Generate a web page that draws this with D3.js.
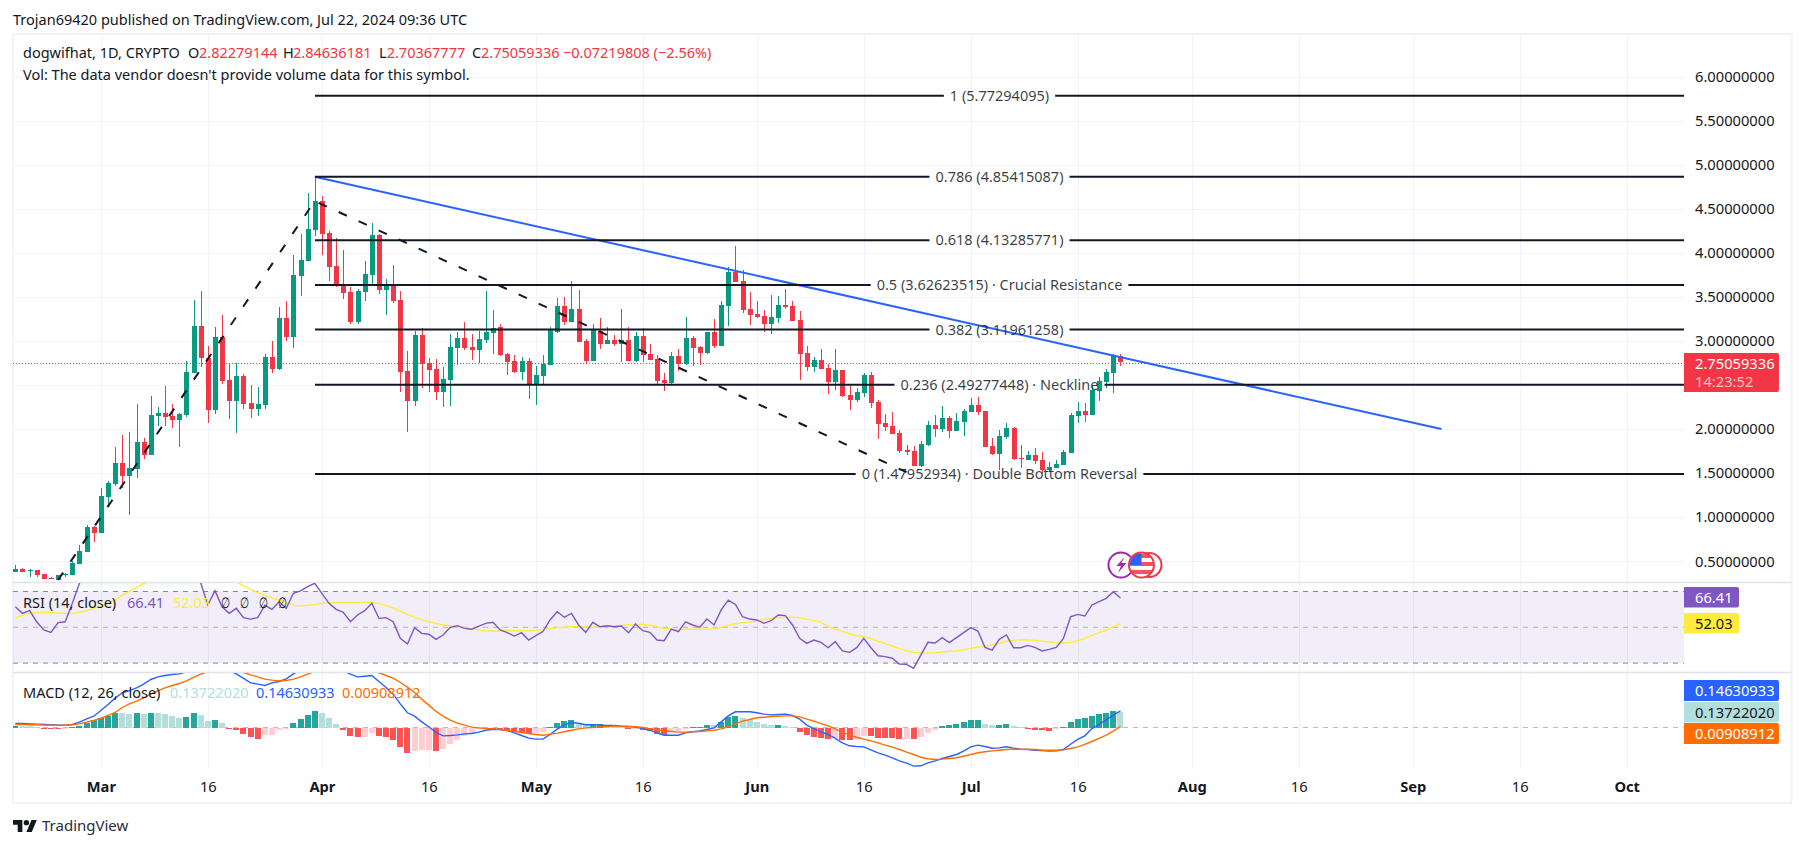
<!DOCTYPE html>
<html>
<head>
<meta charset="utf-8">
<title>dogwifhat 1D</title>
<script src="https://cdn.jsdelivr.net/npm/d3@7"></script>
<style>
  html, body { margin: 0; padding: 0; background: #ffffff; overflow: hidden; }
  svg text { font-family: "Noto Sans", sans-serif; }
</style>
</head>
<body>
<div id="chart"></div>
<script>
// Daily candles, first one is Feb 18 2024
var firstDay = "2024-02-18";
var candleOpen = [
  .367,.401,.374,.385,.340,.298,.276,.329,.332,.457,
  .594,.877,.809,1.218,1.366,1.604,1.456,1.536,1.842,1.695,
  2.137,2.171,2.137,2.092,2.149,2.626,3.159,2.796,2.206,3.034,
  2.546,2.308,2.591,2.285,2.217,2.262,2.807,2.671,3.250,3.034,
  3.727,3.897,4.249,4.578,4.215,3.840,3.625,3.545,3.204,3.545,
  3.738,4.192,3.568,3.625,3.454,2.648,2.308,3.057,2.739,2.671,
  2.410,2.546,2.909,3.023,2.921,2.887,3.000,3.080,3.148,2.841,
  2.762,2.637,2.762,2.489,2.591,2.716,3.091,3.386,3.204,3.352,
  2.989,2.762,3.102,2.955,3.000,2.955,3.000,2.762,3.046,2.841,
  2.784,2.546,2.512,2.818,2.728,3.023,2.921,2.853,3.091,2.932,
  3.386,3.772,3.670,3.352,3.295,3.273,3.182,3.250,3.397,3.386,
  3.227,2.853,2.694,2.773,2.682,2.523,2.660,2.376,2.319,2.399,
  2.603,2.296,2.058,2.024,1.944,1.751,1.740,1.570,1.808,2.035,
  1.990,2.115,1.967,2.069,2.183,2.262,2.194,1.797,1.706,1.899,
  2.001,1.661,1.638,1.695,1.638,1.524,1.547,1.581,1.717,2.137,
  2.194,2.149,2.421,2.523,2.626,2.82279
];
var candleHigh = [
  .442,.412,.401,.393,.340,.314,.336,.355,.495,.669,
  .900,.889,1.320,1.399,1.786,1.922,1.956,2.274,1.888,2.364,
  2.240,2.478,2.274,2.171,2.762,3.454,3.556,2.932,3.148,3.284,
  2.739,2.739,2.614,2.489,2.467,2.841,2.989,3.375,3.443,3.965,
  4.203,4.669,4.854,4.635,4.238,4.158,4.022,3.602,3.579,3.897,
  4.328,4.203,3.693,3.852,3.556,2.875,3.102,3.136,2.796,2.784,
  2.694,3.068,3.091,3.204,3.068,3.102,3.556,3.341,3.182,2.853,
  2.830,2.807,2.796,2.705,2.830,3.148,3.477,3.488,3.670,3.568,
  3.012,3.182,3.250,3.148,3.057,3.352,3.148,3.091,3.136,2.955,
  2.830,2.626,2.864,2.898,3.261,3.046,2.932,3.091,3.239,3.443,
  3.829,4.067,3.795,3.545,3.443,3.341,3.511,3.500,3.579,3.443,
  3.329,2.932,2.807,2.898,2.728,2.898,2.660,2.478,2.455,2.626,
  2.637,2.319,2.160,2.183,1.978,1.808,1.797,1.854,2.081,2.149,
  2.251,2.137,2.171,2.217,2.342,2.353,2.194,1.888,1.978,2.058,
  2.013,1.808,1.740,1.774,1.729,1.615,1.638,1.751,2.171,2.296,
  2.285,2.478,2.580,2.671,2.841,2.84636
];
var candleLow = [
  .367,.370,.314,.314,.291,.283,.276,.314,.332,.457,
  .594,.707,.809,1.108,1.343,1.320,1.014,1.434,1.649,1.695,
  2.024,2.024,2.001,1.786,2.126,2.626,2.694,2.058,2.160,2.501,
  2.103,1.944,2.217,2.115,2.137,2.217,2.626,2.660,2.989,2.909,
  3.500,3.897,4.181,3.965,3.670,3.602,3.466,3.182,3.182,3.443,
  3.625,3.522,3.284,3.420,2.410,1.956,2.251,2.455,2.410,2.319,
  2.240,2.251,2.716,2.887,2.773,2.739,2.966,2.841,2.818,2.603,
  2.626,2.546,2.330,2.262,2.489,2.716,3.080,3.170,3.204,2.977,
  2.728,2.762,2.898,2.955,2.932,2.750,2.762,2.750,2.750,2.773,
  2.501,2.421,2.501,2.648,2.716,2.705,2.716,2.841,2.909,2.932,
  3.159,3.659,3.307,3.170,3.250,3.091,3.068,3.193,3.352,3.216,
  2.546,2.648,2.637,2.671,2.387,2.433,2.353,2.206,2.296,2.353,
  2.228,1.876,1.967,1.933,1.717,1.695,1.570,1.558,1.797,1.899,
  1.956,1.888,1.967,1.910,2.183,2.149,1.786,1.695,1.524,1.876,
  1.638,1.547,1.638,1.592,1.486,1.502,1.547,1.581,1.717,2.058,
  2.069,2.149,2.308,2.455,2.398,2.70368
];
var candleClose = [
  .401,.370,.393,.336,.291,.287,.329,.340,.469,.605,
  .877,.809,1.229,1.377,1.604,1.456,1.547,1.842,1.695,2.149,
  2.171,2.126,2.092,2.160,2.637,3.159,2.796,2.206,3.034,2.535,
  2.308,2.591,2.274,2.217,2.274,2.807,2.671,3.250,3.034,3.738,
  3.908,4.260,4.578,4.203,3.829,3.636,3.534,3.204,3.556,3.749,
  4.192,3.568,3.625,3.443,2.637,2.308,3.057,2.728,2.660,2.410,
  2.557,2.921,3.023,2.909,2.887,3.012,3.091,3.136,2.830,2.750,
  2.637,2.762,2.489,2.603,2.728,3.114,3.386,3.204,3.352,2.977,
  2.762,3.114,2.955,3.000,2.955,3.000,2.762,3.046,2.830,2.773,
  2.535,2.512,2.818,2.728,3.023,2.909,2.853,3.091,2.932,3.397,
  3.772,3.659,3.341,3.284,3.261,3.182,3.261,3.397,3.375,3.216,
  2.841,2.694,2.773,2.671,2.523,2.660,2.364,2.319,2.410,2.603,
  2.285,2.047,2.013,1.933,1.740,1.729,1.570,1.820,2.035,1.990,
  2.115,1.967,2.081,2.194,2.262,2.183,1.786,1.706,1.910,2.001,
  1.649,1.649,1.695,1.627,1.524,1.558,1.592,1.729,2.149,2.194,
  2.149,2.433,2.535,2.637,2.818,2.75059
];

// RSI pane, per candle (the stretch that runs off the top of the pane is a guess)
var rsiValues = [
  61.5,57.8,59.3,53.1,48.5,47.2,52.6,53.1,63.4,74.6,
  85.7,88,89,90,88,86,87,85,86,86,
  88,85,84,83,84,84,74.9,62.4,70.5,61.5,
  57.8,60.6,55.4,54.6,55.4,62.4,60.0,64.3,60.6,69.0,
  70.3,72.7,74.6,69.0,63.4,60.0,58.4,53.1,56.9,59.3,
  63.4,55.0,55.4,53.1,43.8,40.7,49.8,46.6,46.1,43.3,
  45.7,50.0,50.9,49.4,48.9,50.7,52.2,52.8,48.5,47.0,
  45.1,47.0,42.9,45.3,47.6,54.1,58.7,55.6,57.8,51.3,
  47.2,52.8,50.3,50.9,50.3,50.7,47.0,51.8,48.1,47.2,
  42.9,42.5,49.0,47.6,53.1,51.3,50.0,54.6,51.3,59.7,
  65.2,62.8,55.9,54.6,54.1,52.2,53.7,56.9,56.5,51.3,
  43.8,41.0,42.9,41.6,38.6,42.0,36.8,36.0,38.6,43.8,
  38.6,34.1,33.6,32.7,29.5,29.3,27.1,34.5,41.6,41.2,
  44.2,41.4,44.2,47.0,49.8,47.9,38.8,37.3,43.3,45.7,
  38.6,38.6,39.9,38.8,36.8,37.7,38.8,43.8,55.9,57.2,
  56.3,62.4,64.3,66.2,69.9,66.41
];
var rsiMaValues = [
  55.0,56.9,57.8,58.2,58.4,58.2,58.0,57.8,57.8,58.4,
  59.3,60.4,61.7,63.4,65.2,67.8,70.1,72.3,74.4,76.4,
  78.3,80.1,82,82.9,83.9,84.2,83.9,82.9,81.1,79.2,
  76.4,75.3,73.2,71.2,69.3,67.8,66.4,65.1,63.8,62.4,
  61.9,62.3,62.8,63.4,63.8,63.9,63.9,63.9,63.9,63.9,
  63.9,63.4,62.1,60.8,59.1,57.2,55.7,54.3,53.1,52.2,
  51.3,50.9,50.5,49.8,49.0,48.5,48.1,47.9,47.9,48.1,
  48.1,48.1,48.1,48.3,48.7,49.2,49.8,50.0,50.3,50.3,
  50.2,50.0,50.3,50.5,50.7,51.1,51.5,51.8,51.6,51.3,
  50.2,49.4,48.9,48.7,48.9,48.9,48.9,49.0,49.2,50.0,
  51.1,52.0,52.6,53.0,53.5,54.3,54.8,55.4,55.7,55.7,
  55.4,54.4,53.9,52.8,50.5,49.0,47.7,46.4,45.3,44.8,
  43.8,42.2,40.9,39.4,38.1,36.9,36.0,35.8,35.6,35.8,
  36.2,36.6,36.8,37.3,38.2,39.0,39.5,40.1,41.2,42.2,
  42.7,43.1,42.9,42.7,42.2,41.8,41.4,41.2,41.6,42.5,
  43.8,45.5,47.0,48.5,50.3,52.03
];

// MACD pane, per candle
var macdValues = [
  .035,.035,.032,.030,.027,.024,.021,.021,.027,.047,
  .077,.100,.150,.204,.260,.307,.327,.351,.384,.425,
  .448,.460,.469,.475,.493,.519,.537,.537,.531,.519,
  .502,.475,.434,.395,.384,.372,.395,.407,.431,.475,
  .513,.543,.561,.561,.549,.531,.502,.472,.448,.454,
  .460,.407,.354,.295,.209,.130,.100,.050,.006,-.044,
  -.074,-.071,-.065,-.056,-.053,-.041,-.024,-.015,-.018,-.027,
  -.047,-.071,-.094,-.103,-.103,-.062,-.015,.024,.044,.038,
  .024,.024,.021,.018,.018,.012,.009,.003,-.009,-.024,
  -.047,-.068,-.068,-.068,-.047,-.038,-.030,-.018,-.003,.050,
  .103,.139,.139,.139,.130,.118,.112,.115,.118,.106,
  .074,.021,-.009,-.038,-.062,-.097,-.136,-.162,-.168,-.171,
  -.198,-.224,-.245,-.268,-.295,-.316,-.342,-.339,-.313,-.295,
  -.274,-.257,-.239,-.209,-.171,-.156,-.168,-.183,-.180,-.171,
  -.183,-.192,-.195,-.201,-.204,-.209,-.207,-.195,-.148,-.106,
  -.074,-.009,.027,.068,.109,.14631
];
var signalValues = [
  .027,.027,.024,.024,.021,.021,.021,.021,.024,.032,
  .047,.062,.083,.106,.133,.177,.209,.233,.263,.295,
  .325,.351,.372,.389,.413,.443,.472,.493,.507,.513,
  .507,.499,.487,.466,.448,.428,.419,.413,.416,.428,
  .448,.472,.496,.513,.525,.531,.531,.528,.522,.513,
  .502,.484,.460,.437,.398,.357,.310,.251,.198,.142,
  .100,.065,.038,.021,.003,-.003,-.009,-.012,-.018,-.027,
  -.035,-.044,-.053,-.062,-.068,-.059,-.050,-.038,-.024,-.012,
  -.003,.000,.006,.009,.012,.012,.009,.006,.000,-.012,
  -.021,-.030,-.035,-.041,-.041,-.038,-.035,-.030,-.024,-.012,
  .006,.032,.056,.071,.086,.091,.097,.100,.103,.103,
  .094,.074,.056,.035,.015,-.012,-.044,-.065,-.086,-.103,
  -.118,-.136,-.156,-.174,-.195,-.218,-.239,-.263,-.277,-.283,
  -.280,-.274,-.268,-.254,-.239,-.224,-.215,-.207,-.201,-.195,
  -.192,-.192,-.192,-.195,-.201,-.201,-.201,-.198,-.186,-.171,
  -.150,-.124,-.097,-.068,-.032,.00909
];
var histValues = [
  .012,.011,.009,.003,-.012,-.015,-.016,-.009,.006,.012,
  .038,.062,.080,.106,.130,.127,.118,.127,.121,.127,
  .124,.121,.103,.086,.091,.127,.115,.056,.068,.041,
  -.009,-.018,-.056,-.086,-.103,-.068,-.065,-.024,-.015,.038,
  .074,.109,.145,.127,.083,.030,-.024,-.077,-.086,-.083,
  -.050,-.077,-.086,-.112,-.174,-.227,-.209,-.201,-.198,-.209,
  -.192,-.148,-.112,-.077,-.050,-.015,-.006,-.009,-.024,-.032,
  -.035,-.044,-.059,-.050,-.041,.001,.038,.056,.065,.035,
  .021,.030,.032,.015,.006,.003,-.015,-.012,-.021,-.032,
  -.059,-.062,-.032,-.031,-.012,.003,.006,.021,.018,.047,
  .091,.100,.083,.068,.047,.030,.021,.024,.012,.003,
  -.041,-.068,-.086,-.094,-.103,-.097,-.112,-.115,-.103,-.074,
  -.077,-.091,-.094,-.097,-.103,-.100,-.103,-.086,-.050,-.024,
  .009,.018,.027,.047,.065,.068,.035,.021,.024,.030,
  .012,.003,-.015,-.018,-.024,-.027,-.015,.003,.047,.074,
  .083,.100,.118,.127,.145,.13722
];

// Fibonacci levels drawn on the chart
var fibLevels = ["1", "0.786", "0.618", "0.5", "0.382", "0.236", "0"];
var fibPrices = [5.77294095, 4.85415087, 4.13285771, 3.62623515, 3.11961258, 2.49277448, 1.47952934];
var fibNotes = ["", "", "", "Crucial Resistance", "", "Neckline", "Double Bottom Reversal"];

// Trend line and dashed zigzag: [candle number, price]
var trendLine = [[42, 4.854], [200, 1.99]];
var zigzagLine = [[6, 0.276], [42, 4.578], [125, 1.50]];

// Axis ticks (the 2.5 gridline has no label, the price tag covers it)
var priceTicks = [0.5, 1, 1.5, 2, 2.5, 3, 3.5, 4, 4.5, 5, 5.5, 6];
var priceLabelTicks = [0.5, 1, 1.5, 2, 3, 3.5, 4, 4.5, 5, 5.5, 6];
var timeTickDates = ["2024-03-01", "2024-03-16", "2024-04-01", "2024-04-16", "2024-05-01", "2024-05-16",
  "2024-06-01", "2024-06-16", "2024-07-01", "2024-07-16", "2024-08-01", "2024-08-16", "2024-09-01", "2024-09-16", "2024-10-01"];
var timeTickLabels = ["Mar", "16", "Apr", "16", "May", "16", "Jun", "16", "Jul", "16", "Aug", "16", "Sep", "16", "Oct"];

var textColor = "#131722";
var upColor = "#089981";
var downColor = "#f23645";
var gridColor = "#f0f3fa";
var paneLineColor = "#e0e3eb";
var legendSize = 14.5;
var axisSize = 14.7;

// Layout of the chart panes
var svgWidth = 1804;
var svgHeight = 848;
var plotLeft = 13;
var plotRight = 1684;
var axisRight = 1791.5;
var mainTop = 35;
var mainBottom = 582;
var rsiBottom = 672;
var macdBottom = 768;
var frameBottom = 803;
var tickNudge = 1;

var svg = d3.select("#chart")
  .append("svg")
  .attr("width", svgWidth)
  .attr("height", svgHeight)
  .style("display", "block");

// Scales
var parseDay = d3.utcParse("%Y-%m-%d");
var startDay = parseDay(firstDay);
var xScale = d3.scaleUtc()
  .domain([startDay, parseDay("2024-10-01")])
  .range([15.3, 1626.7]);
var xDay = i => xScale(d3.utcDay.offset(startDay, i));
var xPixel = i => Math.round(xDay(i));

var yScale = d3.scaleLinear()
  .domain([1.47952934, 4.85415087])
  .range([474, 176.7]);
var rsiScale = d3.scaleLinear()
  .domain([30, 70])
  .range([663.1, 591.5]);
var macdScale = d3.scaleLinear()
  .domain([-0.5, 0.5])
  .range([784, 671]);

// Clips for the three panes
var defs = svg.append("defs");
function addClip(id, top, bottom) {
  defs.append("clipPath").attr("id", id)
    .append("rect")
    .attr("x", plotLeft).attr("y", top)
    .attr("width", plotRight - plotLeft).attr("height", bottom - top);
}
addClip("clipMain", mainTop, mainBottom);
addClip("clipRsi", mainBottom + 1, rsiBottom);
addClip("clipMacd", rsiBottom + 1, macdBottom);

var overGradient = defs.append("linearGradient").attr("id", "rsiOver")
  .attr("gradientUnits", "userSpaceOnUse")
  .attr("x1", 0).attr("x2", 0).attr("y1", rsiScale(100)).attr("y2", rsiScale(70));
overGradient.append("stop").attr("offset", 0).attr("stop-color", "#4caf50").attr("stop-opacity", 0.35);
overGradient.append("stop").attr("offset", 1).attr("stop-color", "#4caf50").attr("stop-opacity", 0);
var underGradient = defs.append("linearGradient").attr("id", "rsiUnder")
  .attr("gradientUnits", "userSpaceOnUse")
  .attr("x1", 0).attr("x2", 0).attr("y1", rsiScale(30)).attr("y2", rsiScale(0));
underGradient.append("stop").attr("offset", 0).attr("stop-color", "#f23645").attr("stop-opacity", 0);
underGradient.append("stop").attr("offset", 1).attr("stop-color", "#f23645").attr("stop-opacity", 0.35);

// Simple helper for the many legend labels
function addText(parent, x, y, str, color, size, weight) {
  return parent.append("text")
    .attr("x", x)
    .attr("y", y)
    .attr("dy", ".35em")
    .attr("fill", color)
    .style("font-size", (size || legendSize) + "px")
    .style("font-weight", weight || "normal")
    .text(str);
}

// Vertical grid through all panes
svg.append("g").selectAll("line")
  .data(timeTickDates)
  .enter()
  .append("line")
  .attr("x1", d => Math.round(xScale(parseDay(d))) + 0.5)
  .attr("x2", d => Math.round(xScale(parseDay(d))) + 0.5)
  .attr("y1", mainTop)
  .attr("y2", macdBottom)
  .attr("stroke", gridColor);

// Horizontal grid in the main pane
svg.append("g").selectAll("line")
  .data(priceTicks)
  .enter()
  .append("line")
  .attr("x1", plotLeft)
  .attr("x2", plotRight)
  .attr("y1", d => Math.round(yScale(d)) + tickNudge + 0.5)
  .attr("y2", d => Math.round(yScale(d)) + tickNudge + 0.5)
  .attr("stroke", gridColor);

// Frame and pane separators
svg.append("rect")
  .attr("x", plotLeft)
  .attr("y", 34)
  .attr("width", axisRight - plotLeft)
  .attr("height", frameBottom - 34)
  .attr("fill", "none")
  .attr("stroke", gridColor)
  .attr("stroke-width", 2);
[mainBottom + 0.5, rsiBottom + 0.5].forEach(function(y) {
  svg.append("line")
    .attr("x1", plotLeft).attr("x2", axisRight)
    .attr("y1", y).attr("y2", y)
    .attr("stroke", paneLineColor)
    .attr("stroke-width", 1.5);
});

// Main pane
var mainGroup = svg.append("g").attr("clip-path", "url(#clipMain)");

// Last price dotted line
mainGroup.append("line")
  .attr("x1", plotLeft)
  .attr("x2", plotRight)
  .attr("y1", Math.round(yScale(candleClose[155])) + tickNudge + 0.5)
  .attr("y2", Math.round(yScale(candleClose[155])) + tickNudge + 0.5)
  .attr("stroke", downColor)
  .attr("stroke-dasharray", "1,2");

// Candles: wick then body
var candles = mainGroup.selectAll(".candle")
  .data(candleOpen.map((d, i) => i))
  .enter()
  .append("g")
  .attr("class", "candle")
  .attr("fill", i => candleClose[i] >= candleOpen[i] ? upColor : downColor)
  .attr("shape-rendering", "crispEdges");
candles.append("rect")
  .attr("x", i => xPixel(i))
  .attr("width", 1)
  .attr("y", i => yScale(candleHigh[i]))
  .attr("height", i => yScale(candleLow[i]) - yScale(candleHigh[i]));
candles.append("rect")
  .attr("x", i => xPixel(i) - 2)
  .attr("width", 5)
  .attr("y", i => yScale(Math.max(candleOpen[i], candleClose[i])))
  .attr("height", i => Math.max(1, Math.abs(yScale(candleOpen[i]) - yScale(candleClose[i]))));

// Drawings on top of the candles
var drawLine = d3.line()
  .x(d => xDay(d[0]))
  .y(d => yScale(d[1]));
mainGroup.append("path")
  .attr("d", drawLine(trendLine))
  .attr("fill", "none")
  .attr("stroke", "#2962ff")
  .attr("stroke-width", 2);
mainGroup.append("path")
  .attr("d", drawLine(zigzagLine))
  .attr("fill", "none")
  .attr("stroke", textColor)
  .attr("stroke-width", 2)
  .attr("stroke-dasharray", "9,13");

// Fib lines, each one broken around its centred label
var fibLeft = xPixel(42);
var fibCentre = (fibLeft + plotRight) / 2;
fibLevels.forEach(function(level, i) {
  var note = fibNotes[i] ? " \u00b7 " + fibNotes[i] : "";
  var fy = yScale(fibPrices[i]);
  var label = addText(mainGroup, fibCentre, fy, level + " (" + fibPrices[i].toFixed(8) + ")" + note, textColor)
    .attr("text-anchor", "middle")
    .attr("fill-opacity", 0.85);
  var half = label.node().getComputedTextLength() / 2 + 6;
  [[fibLeft, fibCentre - half], [fibCentre + half, plotRight]].forEach(function(seg) {
    mainGroup.append("line")
      .attr("x1", seg[0]).attr("x2", seg[1])
      .attr("y1", fy).attr("y2", fy)
      .attr("stroke", textColor)
      .attr("stroke-width", 2);
  });
});

// Price axis
var priceAxis = svg.append("g")
  .attr("transform", `translate(${plotRight}, ${tickNudge})`)
  .call(d3.axisRight(yScale).tickValues(priceLabelTicks).tickFormat(d3.format(".8f")).tickSize(0).tickPadding(11));
priceAxis.select(".domain").remove();
priceAxis.selectAll("text")
  .style("font-size", axisSize + "px")
  .style("font-family", '"Noto Sans", sans-serif')
  .attr("fill", textColor);

// Time axis
var timeAxis = svg.append("g")
  .attr("transform", `translate(0, ${macdBottom})`)
  .call(d3.axisBottom(xScale)
    .tickValues(timeTickDates.map(parseDay))
    .tickFormat((d, i) => timeTickLabels[i])
    .tickSize(0));
timeAxis.select(".domain").remove();
timeAxis.selectAll("text")
  .attr("y", 19)
  .attr("dy", ".35em")
  .style("font-size", axisSize + "px")
  .style("font-family", '"Noto Sans", sans-serif')
  .style("font-weight", (d, i) => timeTickLabels[i] === "16" ? "normal" : "bold")
  .attr("fill", textColor);

// RSI pane
svg.append("rect")
  .attr("x", plotLeft)
  .attr("width", plotRight - plotLeft)
  .attr("y", rsiScale(70))
  .attr("height", rsiScale(30) - rsiScale(70))
  .attr("fill", "#7e57c2")
  .attr("fill-opacity", 0.1);
[[70, 0.9], [50, 0.5], [30, 0.9]].forEach(function(band) {
  svg.append("line")
    .attr("x1", plotLeft)
    .attr("x2", plotRight)
    .attr("y1", rsiScale(band[0]))
    .attr("y2", rsiScale(band[0]))
    .attr("stroke", "#787b86")
    .attr("stroke-opacity", band[1])
    .attr("stroke-dasharray", "5,5");
});
var rsiGroup = svg.append("g").attr("clip-path", "url(#clipRsi)");
var rsiLine = d3.line().x((d, i) => xDay(i)).y(d => rsiScale(d));
var overArea = d3.area().x((d, i) => xDay(i)).y0(rsiScale(70)).y1(d => rsiScale(Math.max(d, 70)));
var underArea = d3.area().x((d, i) => xDay(i)).y0(rsiScale(30)).y1(d => rsiScale(Math.min(d, 30)));
rsiGroup.append("path").attr("d", overArea(rsiValues)).attr("fill", "url(#rsiOver)");
rsiGroup.append("path").attr("d", underArea(rsiValues)).attr("fill", "url(#rsiUnder)");
rsiGroup.append("path")
  .attr("d", rsiLine(rsiMaValues))
  .attr("fill", "none")
  .attr("stroke", "#ffeb3b")
  .attr("stroke-width", 1.4);
rsiGroup.append("path")
  .attr("d", rsiLine(rsiValues))
  .attr("fill", "none")
  .attr("stroke", "#7e57c2")
  .attr("stroke-width", 1.4);

// MACD pane
svg.append("line")
  .attr("x1", plotLeft)
  .attr("x2", plotRight)
  .attr("y1", macdScale(0))
  .attr("y2", macdScale(0))
  .attr("stroke", "#787b86")
  .attr("stroke-opacity", 0.5)
  .attr("stroke-dasharray", "5,5");
var macdGroup = svg.append("g").attr("clip-path", "url(#clipMacd)");
macdGroup.selectAll(".hist")
  .data(histValues)
  .enter()
  .append("rect")
  .attr("class", "hist")
  .attr("x", (d, i) => xPixel(i) - 3)
  .attr("width", 6)
  .attr("y", d => macdScale(Math.max(d, 0)))
  .attr("height", d => Math.abs(macdScale(d) - macdScale(0)))
  .attr("shape-rendering", "crispEdges")
  .attr("fill", function(d, i) {
    var rising = i === 0 || d >= histValues[i - 1];
    if (d >= 0) return rising ? "#26a69a" : "#b2dfdb";
    return rising ? "#ffcdd2" : "#ff5252";
  });
var macdLine = d3.line().x((d, i) => xDay(i)).y(d => macdScale(d));
macdGroup.append("path")
  .attr("d", macdLine(macdValues))
  .attr("fill", "none")
  .attr("stroke", "#2962ff")
  .attr("stroke-width", 1.4);
macdGroup.append("path")
  .attr("d", macdLine(signalValues))
  .attr("fill", "none")
  .attr("stroke", "#ff6d00")
  .attr("stroke-width", 1.4);

// Price tags on the right axis
var tagLeft = plotRight;
function addTag(top, bottom, right, color, str, strColor) {
  svg.append("path")
    .attr("d", `M${tagLeft},${top}H${right - 2}Q${right},${top} ${right},${top + 2}V${bottom - 2}Q${right},${bottom} ${right - 2},${bottom}H${tagLeft}Z`)
    .attr("fill", color);
  return addText(svg, 1695, top + 10.5, str, strColor, axisSize);
}
addTag(353, 392, 1779, downColor, "2.75059336", "#ffffff");
addText(svg, 1695, 381.7, "14:23:52", "#ffffff", axisSize).attr("fill-opacity", 0.7);
addTag(587, 607.5, 1739, "#7e57c2", "66.41", "#ffffff");
addTag(613, 633.5, 1739, "#ffeb3b", "52.03", textColor);
addTag(680, 701, 1779, "#2962ff", "0.14630933", "#ffffff");
addTag(702, 722.5, 1779, "#b2dfdb", "0.13722020", textColor);
addTag(723, 744, 1779, "#ff6d00", "0.00908912", "#ffffff");

// Header and legends
addText(svg, 13, 20, "Trojan69420 published on TradingView.com, Jul 22, 2024 09:36 UTC", textColor);
addText(svg, 23, 53, "dogwifhat, 1D, CRYPTO", textColor);
[["O", "2.82279144", 188, 199], ["H", "2.84636181", 283, 293], ["L", "2.70367777", 379, 386.7], ["C", "2.75059336", 472, 481]].forEach(function(o) {
  addText(svg, o[2], 53, o[0], textColor);
  addText(svg, o[3], 53, o[1], downColor);
});
addText(svg, 563, 53, "\u22120.07219808 (\u22122.56%)", downColor);
addText(svg, 23, 75, "Vol: The data vendor doesn't provide volume data for this symbol.", textColor);

addText(svg, 23, 603, "RSI (14, close)", textColor);
addText(svg, 127, 603, "66.41", "#7e57c2");
addText(svg, 173, 603, "52.03", "#ffeb3b");
[221, 240, 259, 278].forEach(function(x) {
  addText(svg, x, 603, "\u2205", textColor)
    .attr("textLength", 9)
    .attr("lengthAdjust", "spacingAndGlyphs");
});
addText(svg, 23, 693, "MACD (12, 26, close)", textColor);
addText(svg, 170, 693, "0.13722020", "#b2dfdb");
addText(svg, 256, 693, "0.14630933", "#2962ff");
addText(svg, 342, 693, "0.00908912", "#ff6d00");

// Event badges above the last candle
var badgeY = 565;
var badgeX = xDay(155);
svg.append("circle").attr("cx", badgeX + 0.5).attr("cy", badgeY).attr("r", 12.5)
  .attr("fill", "#ffffff").attr("stroke", "#9c27b0").attr("stroke-width", 2);
svg.append("path")
  .attr("d", `M${badgeX + 4},${badgeY - 8}L${badgeX - 4},${badgeY + 1}H${badgeX + 0.5}L${badgeX - 2.5},${badgeY + 8}L${badgeX + 6},${badgeY - 2}H${badgeX + 1}Z`)
  .attr("fill", "#9c27b0");
svg.append("circle").attr("cx", badgeX + 29).attr("cy", badgeY).attr("r", 12)
  .attr("fill", "#ffffff").attr("stroke", downColor).attr("stroke-width", 2);
defs.append("clipPath").attr("id", "clipFlag")
  .append("circle").attr("cx", badgeX + 21).attr("cy", badgeY).attr("r", 12);
var flag = svg.append("g").attr("clip-path", "url(#clipFlag)");
flag.append("rect").attr("x", badgeX + 8).attr("y", badgeY - 13).attr("width", 26).attr("height", 26).attr("fill", "#ffffff");
[-11, -3, 5].forEach(function(dy) {
  flag.append("rect").attr("x", badgeX + 8).attr("y", badgeY + dy).attr("width", 26).attr("height", 4).attr("fill", "#f7525f");
});
flag.append("rect").attr("x", badgeX + 9).attr("y", badgeY - 13).attr("width", 12).attr("height", 13).attr("fill", "#2962ff");
svg.append("circle").attr("cx", badgeX + 21).attr("cy", badgeY).attr("r", 12.5)
  .attr("fill", "none").attr("stroke", downColor).attr("stroke-width", 2);

// TradingView mark at the bottom
var logo = svg.append("g").attr("transform", "translate(13, 817.3) scale(0.67)");
logo.append("path")
  .attr("d", "M14 22H7V11H0V4h14v18zM28 22h-8l7.5-18h8L28 22z")
  .attr("fill", textColor);
logo.append("circle").attr("cx", 20).attr("cy", 8).attr("r", 4).attr("fill", textColor);
addText(svg, 42, 826, "TradingView", "#2a2e39", 15);
</script>
</body>
</html>
